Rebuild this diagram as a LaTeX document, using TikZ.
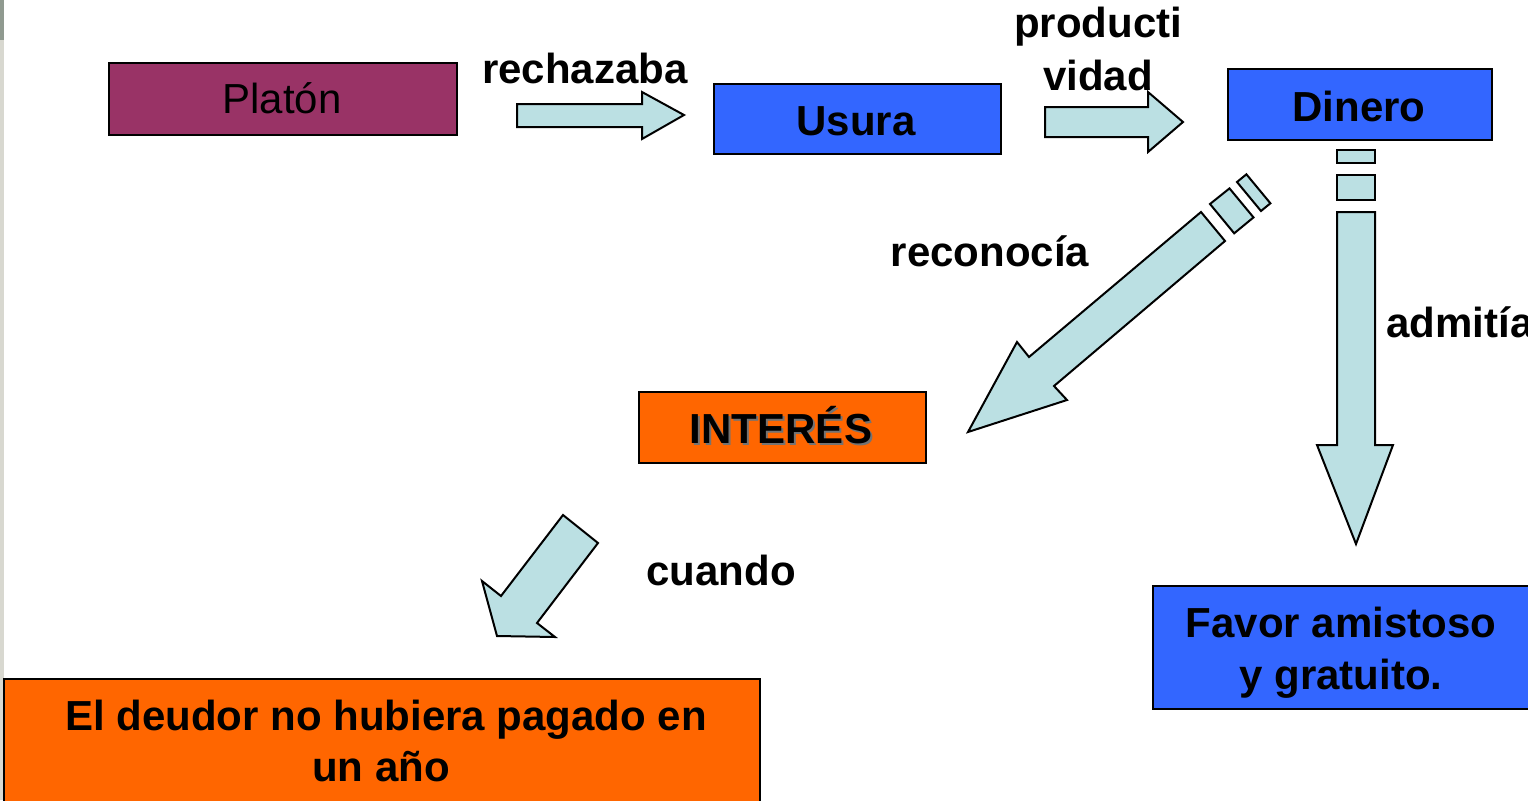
\documentclass[tikz,border=0pt]{standalone}
\usepackage{fontspec}
\setmainfont{Liberation Sans}
\definecolor{purp}{HTML}{993366}
\definecolor{blu}{HTML}{3366FF}
\definecolor{orng}{HTML}{FF6600}
\definecolor{arw}{HTML}{BBE0E3}
\definecolor{edgegray}{HTML}{D8D8D0}
\definecolor{edgedark}{HTML}{909A90}
\begin{document}
\begin{tikzpicture}[x=0.5pt,y=-0.5pt,
  box/.style={draw=black, line width=1pt, inner sep=0pt, anchor=north west},
  blockarrow/.style={draw=black, fill=arw, line width=1pt, line join=miter},
  lbl/.style={font=\fontsize{21}{25.5}\selectfont\bfseries, anchor=base, inner sep=0pt},
  plain/.style={font=\fontsize{21}{25.5}\selectfont, anchor=base, inner sep=0pt},
]
\useasboundingbox (0,0) rectangle (1528,800);
\fill[white] (0,0) rectangle (1528,800);
% slide edge
\fill[edgegray] (0,0) rectangle (4,800);
\fill[edgedark] (0,0) rectangle (4,40);

% boxes
\node[box, fill=purp, minimum width=174pt, minimum height=36pt] (platon) at (108,62) {};
\node[box, fill=blu, minimum width=143.5pt, minimum height=35pt] (usura) at (713,83) {};
\node[box, fill=blu, minimum width=132pt, minimum height=35.5pt] (dinero) at (1227,68) {};
\node[box, fill=orng, minimum width=143.5pt, minimum height=35.5pt] (interes) at (638,391) {};
\node[box, fill=orng, minimum width=378pt, minimum height=66pt] (deudor) at (3,678) {};
\node[box, fill=blu, minimum width=196pt, minimum height=61.5pt] (favor) at (1152,585) {};

% box texts
\node[plain] (platont) at (282,113) {Platón};
\node[lbl] (usurat) at (856,135) {Usura};
\node[lbl] (dinerot) at (1359,121) {Dinero};
\node[lbl, text=black!55] (interess) at (783,445) {INTERÉS};
\node[lbl] (interest) at (781,443) {INTERÉS};
\node[lbl] (deudor1) at (386,730) {El deudor no hubiera pagado en};
\node[lbl] (deudor2) at (381,781) {un año};
\node[lbl] (favor1) at (1341,637) {Favor amistoso};
\node[lbl] (favor2) at (1341,689) {y gratuito.};

% labels
\node[lbl] (rech) at (585,83) {rechazaba};
\node[lbl] (prod1) at (1098,37) {producti};
\node[lbl] (prod2) at (1098,90) {vidad};
\node[lbl] (recon) at (990,266) {reconocía};
\node[lbl, anchor=base west] (admit) at (1386,337) {admitía};
\node[lbl] (cuando) at (721,585) {cuando};

% block arrows
\draw[blockarrow] (517,104) -- (642,104) -- (642,92) -- (684,115) -- (642,139) -- (642,127) -- (517,127) -- cycle;
\draw[blockarrow] (1045,107) -- (1148,107) -- (1148,92) -- (1183,122) -- (1148,152) -- (1148,137) -- (1045,137) -- cycle;

\draw[blockarrow] (1337,212) -- (1375,212) -- (1375,445) -- (1393,445) -- (1356,544) -- (1317,445) -- (1337,445) -- cycle;
\draw[blockarrow] (1337,175) rectangle (1375,200);
\draw[blockarrow] (1337,150) rectangle (1375,163);

\draw[blockarrow] (1201,212) -- (1225,241) -- (1054,386) -- (1067,400) -- (968,432) -- (1017,342) -- (1029,357) -- cycle;
\draw[blockarrow] (1210,204) -- (1229.5,188.4) -- (1253.5,217.4) -- (1234.2,233.3) -- cycle;
\draw[blockarrow] (1237,182) -- (1246.4,174.3) -- (1270.4,203.3) -- (1261,211) -- cycle;

\draw[blockarrow] (563,515) -- (598,543) -- (537,623) -- (555,637) -- (497,636) -- (482,581) -- (501,596) -- cycle;
\end{tikzpicture}
\end{document}
